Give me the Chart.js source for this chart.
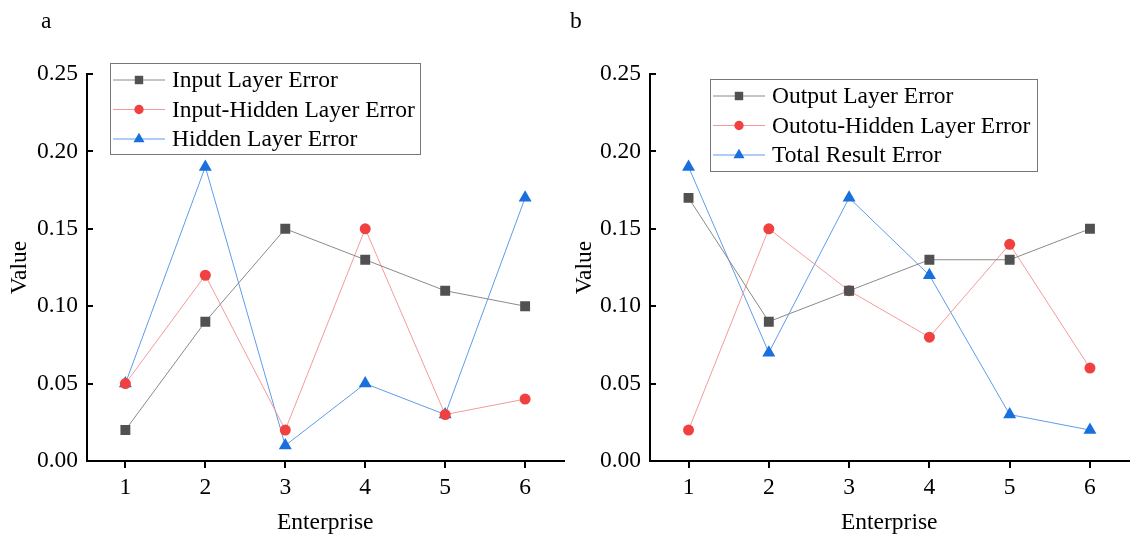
<!DOCTYPE html>
<html>
<head>
<meta charset="utf-8">
<script src="https://cdn.jsdelivr.net/npm/chart.js@4.4.0/dist/chart.umd.min.js"></script>
<style>
  body { margin: 0; background: #fff; overflow: hidden; }
  .panel { position: absolute; top: 0; width: 571px; height: 537px; }
  #pa { left: 0; }
  #pb { left: 565px; }
</style>
</head>
<body>
<div class="panel" id="pa"><canvas id="chartA" width="571" height="537"></canvas></div>
<div class="panel" id="pb"><canvas id="chartB" width="571" height="537"></canvas></div>
<script>
var enterprises = [1, 2, 3, 4, 5, 6];
var yTicks = [0, 0.05, 0.10, 0.15, 0.20, 0.25];

// panel a
var inputLayer = [0.02, 0.09, 0.15, 0.13, 0.11, 0.10];
var inputHidden = [0.05, 0.12, 0.02, 0.15, 0.03, 0.04];
var hiddenLayer = [0.05, 0.19, 0.01, 0.05, 0.03, 0.17];

// panel b
var outputLayer = [0.17, 0.09, 0.11, 0.13, 0.13, 0.15];
var outotuHidden = [0.02, 0.15, 0.11, 0.08, 0.14, 0.06];
var totalResult = [0.19, 0.07, 0.17, 0.12, 0.03, 0.02];

var FONT = '"Liberation Serif", "Times New Roman", serif';
var FS = 23.5;
var styles = [
  { marker: '#515151', line: '#8a8a8a', shape: 'rect', radius: 7 },
  { marker: '#f14040', line: '#f59a9a', shape: 'circle', radius: 5.5 },
  { marker: '#1a6fdf', line: '#5f9bea', shape: 'triangle', radius: 7.5 }
];

function pts(vals) {
  return vals.map(function(v, i) { return { x: enterprises[i], y: v }; });
}

function makeDatasets(names, series) {
  return series.map(function(vals, i) {
    var s = styles[i];
    return {
      label: names[i],
      data: pts(vals),
      borderColor: s.line,
      borderWidth: 1,
      backgroundColor: s.marker,
      pointBackgroundColor: s.marker,
      pointBorderColor: s.marker,
      pointBorderWidth: 0,
      pointStyle: s.shape,
      pointRadius: s.radius,
      fill: false,
      tension: 0
    };
  });
}

// legend box, panel letter and inward y ticks
function decorPlugin(letter, letterX, box) {
  return {
    id: 'decor',
    afterDraw: function(chart) {
      var ctx = chart.ctx;
      var y = chart.scales.y;
      ctx.save();
      ctx.strokeStyle = '#000';
      ctx.lineWidth = 2;
      yTicks.forEach(function(v) {
        var py = Math.round(y.getPixelForValue(v));
        ctx.beginPath();
        ctx.moveTo(chart.chartArea.left, py);
        ctx.lineTo(chart.chartArea.left + 6, py);
        ctx.stroke();
      });

      ctx.fillStyle = '#000';
      ctx.font = FS + 'px ' + FONT;
      ctx.textBaseline = 'middle';
      ctx.textAlign = 'left';
      ctx.fillText(letter, letterX, 22);

      // legend
      ctx.fillStyle = '#fff';
      ctx.fillRect(box.x, box.y, box.w, box.h);
      ctx.strokeStyle = '#777';
      ctx.lineWidth = 1;
      ctx.strokeRect(box.x + 0.5, box.y + 0.5, box.w, box.h);
      chart.data.datasets.forEach(function(ds, i) {
        var s = styles[i];
        var ry = box.y + 17 + i * 29.5;
        ctx.strokeStyle = s.line;
        ctx.lineWidth = 1;
        ctx.beginPath();
        ctx.moveTo(box.x + 3, ry);
        ctx.lineTo(box.x + 55, ry);
        ctx.stroke();
        ctx.fillStyle = s.marker;
        Chart.helpers.drawPoint(ctx, { pointStyle: s.shape, radius: s.radius * 0.85, borderWidth: 0 }, box.x + 29, ry);
        ctx.fillStyle = '#000';
        ctx.font = FS + 'px ' + FONT;
        ctx.fillText(ds.label, box.x + 62, ry + 1);
      });
      ctx.restore();
    }
  };
}

function makeChart(id, names, series, yWidth, letter, letterX, box) {
  return new Chart(document.getElementById(id), {
    type: 'line',
    data: { datasets: makeDatasets(names, series) },
    options: {
      responsive: false,
      animation: false,
      devicePixelRatio: 1,
      layout: { padding: { left: 0, right: 0, top: 74, bottom: 0 } },
      plugins: { legend: { display: false }, tooltip: { enabled: false } },
      scales: {
        x: {
          type: 'linear',
          min: 0.52,
          max: 6.48,
          afterBuildTicks: function(s) { s.ticks = enterprises.map(function(v) { return { value: v }; }); },
          afterFit: function(s) { s.height = 76; },
          border: { display: true, color: '#000', width: 2 },
          grid: { drawOnChartArea: false, drawTicks: true, tickLength: 7, tickColor: '#000', lineWidth: 2 },
          ticks: { color: '#000', font: { family: FONT, size: FS }, padding: 6, maxRotation: 0 },
          title: { display: true, text: 'Enterprise', color: '#000', font: { family: FONT, size: FS }, padding: { top: 6, bottom: 0 } }
        },
        y: {
          min: 0,
          max: 0.25,
          afterBuildTicks: function(s) { s.ticks = yTicks.map(function(v) { return { value: v }; }); },
          afterFit: function(s) { s.width = yWidth; },
          border: { display: true, color: '#000', width: 2 },
          grid: { drawOnChartArea: false, drawTicks: false },
          ticks: { color: '#000', font: { family: FONT, size: FS }, padding: 9, callback: function(v) { return v.toFixed(2); } },
          title: { display: true, text: 'Value', color: '#000', font: { family: FONT, size: FS }, padding: { top: 6, bottom: 0 } }
        }
      }
    },
    plugins: [decorPlugin(letter, letterX, box)]
  });
}

makeChart('chartA', ['Input Layer Error', 'Input-Hidden Layer Error', 'Hidden Layer Error'],
  [inputLayer, inputHidden, hiddenLayer], 87, 'a', 41, { x: 110, y: 63, w: 310, h: 91 });
makeChart('chartB', ['Output Layer Error', 'Outotu-Hidden Layer Error', 'Total Result Error'],
  [outputLayer, outotuHidden, totalResult], 85, 'b', 5, { x: 145, y: 79, w: 327, h: 92 });
</script>
</body>
</html>
